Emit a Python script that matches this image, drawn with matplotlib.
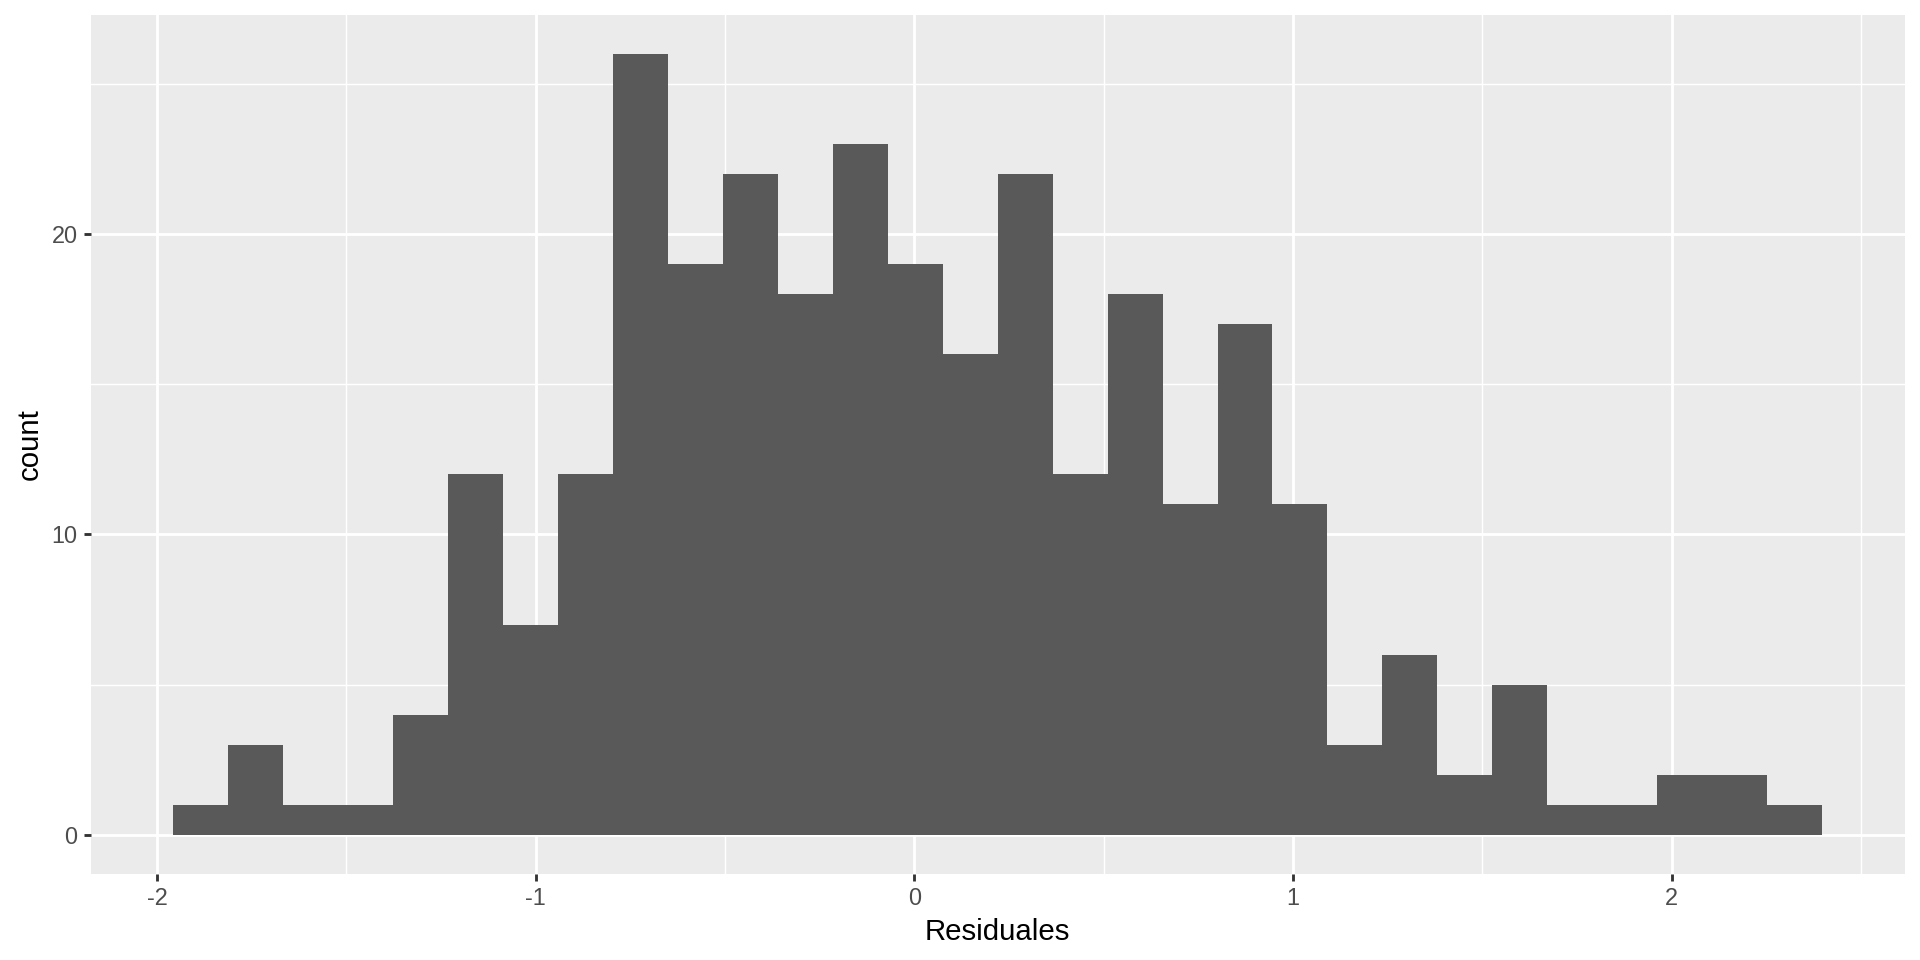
import numpy as np
import matplotlib.pyplot as plt

# histogram of residuals (30 bins)
bin_start = -1.958
bin_width = 0.1452
counts = [1, 3, 1, 1, 4, 12, 7, 12, 26, 19, 22, 18, 23, 19, 16,
          22, 12, 18, 11, 17, 11, 3, 6, 2, 5, 1, 1, 2, 2, 1]
x_ticks = [-2, -1, 0, 1, 2]
y_ticks = [0, 10, 20]
x_label = "Residuales"
y_label = "count"

plt.rcParams['font.family'] = ['Liberation Sans', 'DejaVu Sans']

edges = bin_start + bin_width * np.arange(len(counts) + 1)

fig = plt.figure(figsize=(10, 5), dpi=192)
ax = fig.add_axes([0.0472, 0.0896, 0.992 - 0.0472, 0.9847 - 0.0896])
ax.set_facecolor('#EBEBEB')

ax.bar(edges[:-1], counts, width=bin_width, align='edge',
       color='#595959', linewidth=0, zorder=3)

# limits with ggplot-style 5% expansion
xr = edges[-1] - edges[0]
ax.set_xlim(edges[0] - 0.05 * xr, edges[-1] + 0.05 * xr)
ymax = max(counts)
ax.set_ylim(-0.05 * ymax, ymax * 1.05)

ax.set_xticks(x_ticks)
ax.set_xticklabels([str(t) for t in x_ticks])
ax.set_yticks(y_ticks)
ax.set_xticks([-1.5, -0.5, 0.5, 1.5, 2.5], minor=True)
ax.set_yticks([5, 15, 25], minor=True)

ax.grid(True, which='major', color='white', linewidth=1.07, zorder=1)
ax.grid(True, which='minor', color='white', linewidth=0.53, zorder=1)
ax.set_axisbelow(True)

for s in ax.spines.values():
    s.set_visible(False)

ax.tick_params(which='major', length=2.75, width=1.07, color='#333333',
               labelcolor='#4D4D4D', labelsize=8.8, pad=2.2)
ax.tick_params(which='minor', length=0)

ax.set_xlabel(x_label, fontsize=11, color='black', labelpad=2.75)
ax.set_ylabel(y_label, fontsize=11, color='black', labelpad=2.75)

fig.savefig('out.png', dpi=192, facecolor='white')
